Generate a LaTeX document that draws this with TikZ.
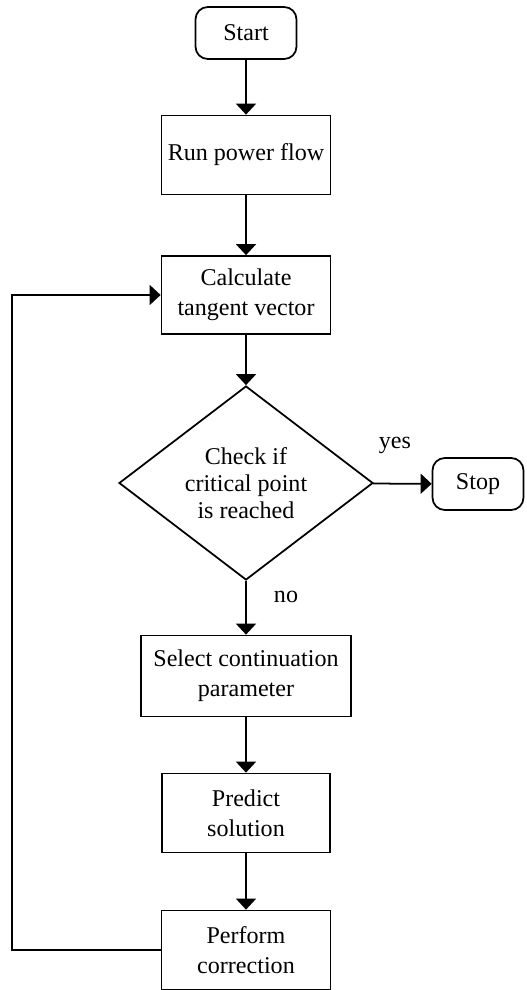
\documentclass[tikz,border=0pt]{standalone}
\usepackage{fontspec}
\setmainfont{Liberation Serif}
\usetikzlibrary{arrows.meta,shapes.geometric}
\newcommand{\flowfont}{\fontsize{13.7}{17}\selectfont}
\tikzset{
  arr/.style={-{Triangle[length=2.2mm,width=4mm]},line width=1pt},
  box/.style={draw,line width=1pt,align=center,inner sep=2pt,font=\flowfont},
  term/.style={box,rounded corners=7pt,minimum width=2.02cm,minimum height=1.04cm},
  decide/.style={draw,diamond,line width=1pt,align=center,inner sep=0pt,
    minimum width=5.08cm,minimum height=3.6cm,font=\fontsize{13.7}{15.5}\selectfont},
  lbl/.style={font=\flowfont}
}

\begin{document}
\begin{tikzpicture}[x=0.02cm,y=-0.02cm]
\useasboundingbox (0,0) rectangle (527,990);
% main column
\node[term] (start) at (246,33) {Start};
\node[box,minimum width=3.38cm,minimum height=1.58cm] (runpf) at (246,155) {Run power flow};
\node[box,minimum width=3.38cm,minimum height=1.56cm] (tangent) at (246,295) {Calculate\\tangent vector};
\node[decide] (check) at (246,483) {Check if\\critical point\\is reached};
\node[term,minimum width=1.82cm] (stop) at (478,484) {Stop};
\node[box,minimum width=4.2cm,minimum height=1.62cm] (select) at (246,676) {Select continuation\\parameter};
\node[box,minimum width=3.36cm,minimum height=1.58cm] (predict) at (246,813) {Predict\\solution};
\node[box,minimum width=3.38cm,minimum height=1.58cm] (perf) at (246,950) {Perform\\correction};
\node[lbl] (yes) at (395,445) {yes};
\node[lbl] (no) at (286,597) {no};
% connectors
\draw[arr] (start) -- (runpf);
\draw[arr] (runpf) -- (tangent);
\draw[arr] (tangent) -- (check);
\draw[arr] (check) -- (stop);
\draw[arr] (check) -- (select);
\draw[arr] (select) -- (predict);
\draw[arr] (predict) -- (perf);
\coordinate (back) at (12,950);
\draw[arr] (perf.west) -- (back) |- (tangent.west);
\end{tikzpicture}
\end{document}
